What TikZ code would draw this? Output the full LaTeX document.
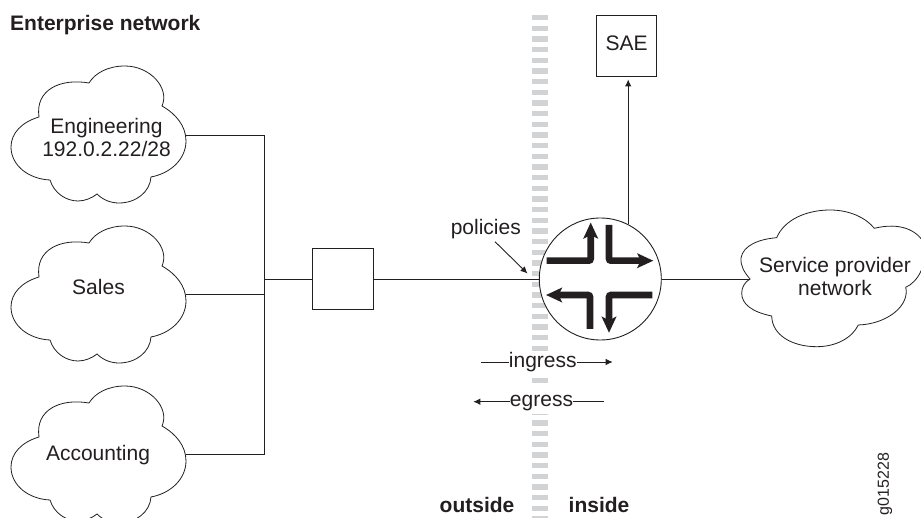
\documentclass[tikz,border=0pt]{standalone}
\usepackage{fontspec}
\setmainfont{Liberation Sans}
\usetikzlibrary{arrows.meta}
\definecolor{ink}{HTML}{231F20}
\definecolor{band}{HTML}{D1D3D4}
\tikzset{
  line/.style={draw=ink,line width=0.9pt},
  lbl/.style={text=ink,inner sep=0pt,align=center,font=\fontsize{21}{23}\selectfont},
  boldlbl/.style={lbl,font=\fontsize{21}{23}\selectfont\bfseries},
  idlbl/.style={lbl,font=\fontsize{16}{18}\selectfont,rotate=90},
  thin arrow/.style={line,-{Latex[length=7pt,width=6.5pt]}},
  flow/.style={draw=ink,line width=6.6pt,rounded corners=2pt,-{Stealth[length=16pt,width=14.5pt,inset=3.5pt]}},
  devicebox/.style={line,fill=white,inner sep=0pt},
  routercircle/.style={circle,line,fill=white,minimum size=122pt,inner sep=0pt},
  cloudline/.style={draw=ink,line width=0.8pt,fill=white},
  cloudshape/.pic={
    \path[cloudline] (162,106)
      .. controls (170,88) and (150,66) .. (125,66)
      .. controls (108,66) and (95,73) .. (89,83)
      .. controls (60,78) and (35,90) .. (39,117)
      .. controls (22,122) and (11,133) .. (11,147)
      .. controls (11,165) and (28,179) .. (50,180)
      .. controls (54,193) and (66,201) .. (78,201)
      .. controls (85,201) and (92,198) .. (97,194)
      .. controls (103,200) and (111,203) .. (119,203)
      .. controls (136,203) and (150,192) .. (151,177)
      .. controls (172,173) and (186,158) .. (186,141)
      .. controls (186,126) and (176,114) .. (162,106) -- cycle;
  }
}
\begin{document}
\begin{tikzpicture}[x=1pt,y=-1pt]
\useasboundingbox (0,0) rectangle (921,518);
\clip (0,0) rectangle (921,518);
% dashed boundary band
\foreach \k in {0,...,31,34,38,39,...,48}
  \fill[band] (532.3,{15+10.67*\k}) rectangle (548.3,{20.3+10.67*\k});
\fill[band] (532.3,413.8) rectangle (548.3,415);
% clouds
\pic at (0,0) {cloudshape};
\pic at (0,160) {cloudshape};
\pic at (0,320) {cloudshape};
\path[cloudline] (750,279)
  .. controls (744,272) and (740.5,266) .. (741,258)
  .. controls (743,245) and (760,239) .. (776.7,237.7)
  .. controls (784,220) and (806,210) .. (830,210)
  .. controls (850,210) and (866,218) .. (874.3,228.3)
  .. controls (900,222) and (918,230) .. (925,245)
  .. controls (927,265) and (918,282) .. (905.7,287.3)
  .. controls (910,305) and (888,324) .. (858.3,325)
  .. controls (852,338) and (836,346.7) .. (816.7,346.7)
  .. controls (792,346.7) and (772,335) .. (771.7,316)
  .. controls (752,312) and (741.5,304) .. (741.7,293)
  .. controls (741.7,287) and (745,282) .. (750,279) -- cycle;
% cloud labels
\node[lbl] (eng) at (106.5,137.5) {Engineering\\192.0.2.22/28};
\node[lbl] (sales) at (98.5,287) {Sales};
\node[lbl] (acct) at (98,455) {Accounting};
\node[lbl] (sp) at (835,276.5) {Service provider\\network};
\coordinate (engR) at (186,135);
\coordinate (salesR) at (186,294);
\coordinate (acctR) at (186,454);
\coordinate (spL) at (750,279);
\coordinate (busTop) at (264.5,135);
\coordinate (busBot) at (264.5,454);
% devices
\node[devicebox,minimum width=60.5pt,minimum height=61pt] (sw) at (342.7,279) {};
\node[routercircle] (router) at (600.3,279) {};
\node[devicebox,lbl,draw=ink,minimum width=60pt,minimum height=61pt] (sae) at (626.7,45.5) {};
\node[lbl] (saetext) at (626.7,43.5) {SAE};
% connectors
\draw[line] (engR) -- (busTop) -- (busBot) -- (acctR);
\draw[line] (salesR) -- (salesR -| busTop);
\draw[line] (sw.west) -- (sw.west -| busTop);
\draw[line] (sw.east) -- (router.west);
\draw[line] (router.east) -- (spL);
\draw[thin arrow,shorten >=3pt] (router.63.7) -- (router.63.7 |- sae.south);
% router arrows
\draw[flow] (546.7,260.7) -- (590.7,260.7) -- (590.7,222.5);
\draw[flow] (609,225) -- (609,260.7) -- (653.3,260.7);
\draw[flow] (652.3,295) -- (609,295) -- (609,332.8);
\draw[flow] (590,329) -- (590,295) -- (546,295);
% text and small arrows
\node[boldlbl,anchor=west] (title) at (10,25.5) {Enterprise network};
\node[lbl] (policies) at (485.8,229) {policies};
\coordinate (polTail) at (495,241.7);
\coordinate (polTip) at (527.5,273.5);
\draw[thin arrow] (polTail) -- (polTip);
\node[lbl] (ingress) at (542.8,362) {ingress};
\coordinate (ingL) at (481,362);
\coordinate (ingR) at (612.7,362);
\draw[line] (ingL) -- (ingress.west |- ingL);
\draw[thin arrow] (ingress.east |- ingR) -- (ingR);
\node[lbl] (egress) at (541.5,403) {egress};
\coordinate (egL) at (473.3,401.7);
\coordinate (egR) at (604.3,401.7);
\draw[thin arrow] (egress.west |- egL) -- (egL);
\draw[line] (egress.east |- egR) -- (egR);
\node[boldlbl,anchor=base] (outside) at (477,512.5) {outside};
\node[boldlbl,anchor=base] (inside) at (599,512.5) {inside};
\node[idlbl] (figid) at (885,484) {g015228};
\end{tikzpicture}
\end{document}
